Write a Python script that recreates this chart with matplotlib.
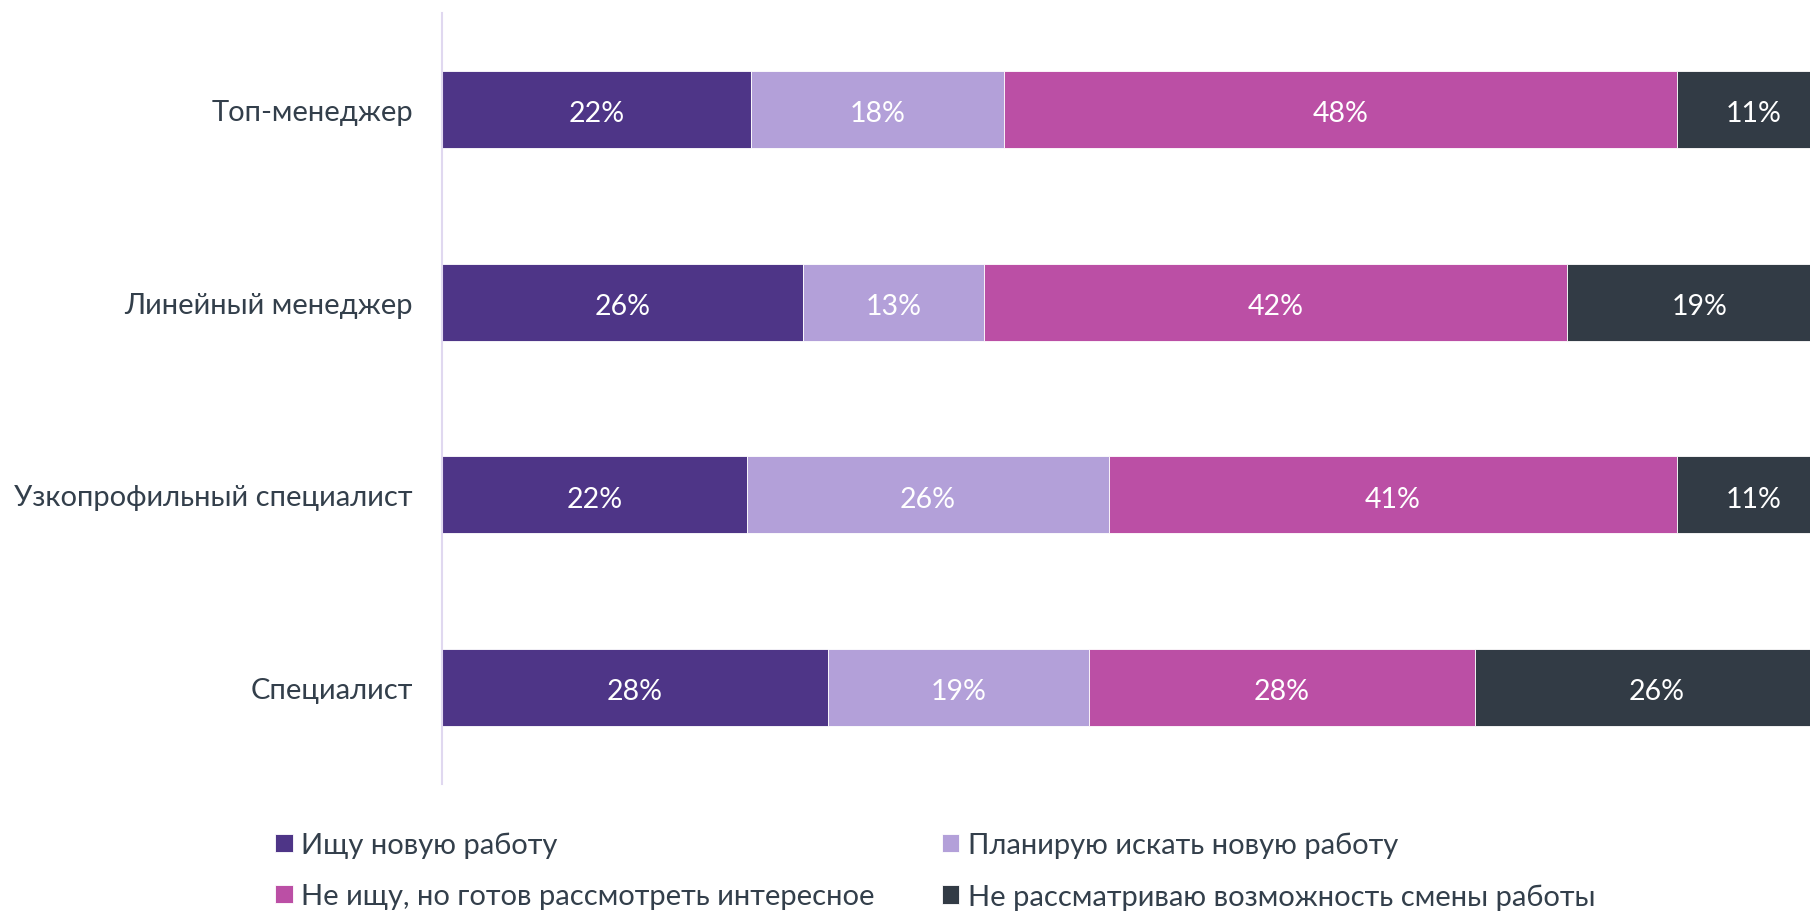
import matplotlib
matplotlib.use("Agg")
import matplotlib.pyplot as plt
import numpy as np

# ---------------------------------------------------------------------------
# Data (percent of respondents)
# ---------------------------------------------------------------------------
categories = ["Топ-менеджер", "Линейный менеджер", "Узкопрофильный специалист", "Специалист"]

series_names = [
    "Ищу новую работу",
    "Планирую искать новую работу",
    "Не ищу, но готов рассмотреть интересное",
    "Не рассматриваю возможность смены работы",
]

looking     = [22.1, 25.8, 21.8, 27.6]
planning    = [18.1, 13.0, 25.9, 18.7]
open_to     = [48.2, 41.7, 40.7, 27.6]
not_looking = [11.0, 19.0, 11.0, 26.0]

colours = ["#4E3587", "#B3A0D9", "#BB4FA5", "#323B45"]
TEXT = "#333F4B"

plt.rcParams["font.family"] = ["Lato", "DejaVu Sans"]

fig = plt.figure(figsize=(18.10, 9.12), dpi=100)
ax = fig.add_axes([442 / 1810, 1 - 785 / 912, 1 - 442 / 1810, (785 - 14) / 912])

y = np.arange(len(categories))
left = np.zeros(len(categories))
handles = []
for name, vals, col in zip(series_names, [looking, planning, open_to, not_looking], colours):
    vals = np.array(vals)
    h = ax.barh(y, vals, left=left, height=0.4, color=col, edgecolor="white",
                linewidth=0.6, label=name)
    handles.append(h)
    for yi, l, v in zip(y, left, vals):
        ax.text(l + v / 2, yi + 0.02, f"{v:.0f}%", ha="center", va="center",
                color="white", fontsize=20.5)
    left += vals

ax.set_xlim(0, 97.9)
ax.set_ylim(3.5, -0.5)
ax.set_yticks(y)
ax.set_yticklabels(categories, fontsize=21, color=TEXT)
ax.tick_params(axis="y", length=0, pad=21)
ax.set_xticks([])

for s in ["top", "right", "bottom"]:
    ax.spines[s].set_visible(False)
ax.spines["left"].set_color("#E0D8F0")
ax.spines["left"].set_linewidth(1.5)

# legend: 2x2, filled row by row (matplotlib fills column-wise)
order = [0, 2, 1, 3]
leg = fig.legend(
    [handles[i] for i in order], [series_names[i] for i in order],
    ncol=2, loc="upper left", bbox_to_anchor=(275 / 1810, 1 - 833 / 912),
    frameon=False, fontsize=21, handlelength=0.6, handleheight=0.6,
    handletextpad=0.3, columnspacing=2.3, labelspacing=0.85,
    borderpad=0, borderaxespad=0,
)
for t in leg.get_texts():
    t.set_color(TEXT)

fig.savefig("out.png", dpi=100)
